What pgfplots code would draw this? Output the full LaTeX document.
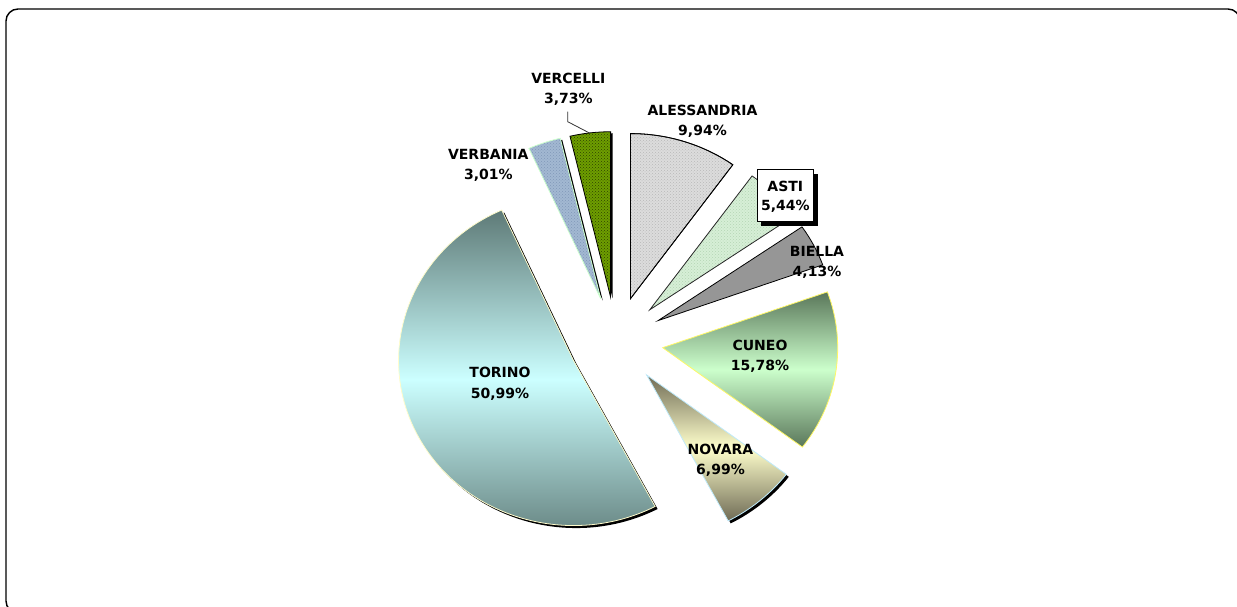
\documentclass[border=0pt]{standalone}
\usepackage{pgfplots}
\usepackage{pgfplotstable}
\pgfplotsset{compat=1.18}
\usetikzlibrary{patterns}
\usepackage{fontspec}
\setmainfont{DejaVu Sans}

\definecolor{torinoD}{HTML}{5E7A77}
\definecolor{torinoL}{HTML}{CCFFFF}
\definecolor{cuneoD}{HTML}{5A775A}
\definecolor{cuneoL}{HTML}{CCFFCC}
\definecolor{novaraD}{HTML}{6F6B55}
\definecolor{novaraL}{HTML}{FFFFCC}
\definecolor{alesF}{HTML}{DCDCDC}
\definecolor{alesP}{HTML}{B8B8B8}
\definecolor{astiF}{HTML}{D6EFD6}
\definecolor{astiP}{HTML}{B5D5B5}
\definecolor{biellaF}{HTML}{969696}
\definecolor{verbF}{HTML}{A2B8D2}
\definecolor{verbP}{HTML}{8098B8}
\definecolor{vercF}{HTML}{6E9E00}
\definecolor{vercP}{HTML}{2E4200}

\pgfplotstableread{
name value
ALESSANDRIA 9.94
ASTI 5.44
BIELLA 4.13
CUNEO 15.78
NOVARA 6.99
TORINO 50.99
VERBANIA 3.01
VERCELLI 3.73
}\piedata

% pie geometry (pixel units, y upwards)
\def\pcx{616}\def\pcy{266}\def\prx{175}\def\pry{165}\def\pex{0.27}

\newcommand\pieslice[2]{%
  \path[#2] (axis cs:\csname pieX#1\endcsname,\csname pieY#1\endcsname)
    -- ++(\csname pieS#1\endcsname:\prx pt and \pry pt)
    arc[start angle=\csname pieS#1\endcsname, end angle=\csname pieE#1\endcsname,
        x radius=\prx pt, y radius=\pry pt] -- cycle;}

\newcommand\plab[5]{%
  \node[lab] at (axis cs:#1,{607-#2-5.1}) {#4};
  \node[lab] at (axis cs:#1,{607-#3-5.1}) {#5};}

\tikzset{lab/.style={font=\fontsize{14}{17}\selectfont\bfseries, anchor=base, inner sep=0pt}}

\begin{document}
\begin{tikzpicture}
\def\cum{0}
\pgfplotsforeachungrouped \i in {0,...,7}{%
  \pgfplotstablegetelem{\i}{value}\of\piedata
  \pgfmathsetmacro\v{\pgfplotsretval}
  \pgfmathsetmacro\sA{90-3.6*\cum}
  \pgfmathsetmacro\eA{90-3.6*(\cum+\v)}
  \pgfmathsetmacro\mA{(\sA+\eA)/2}
  \pgfmathsetmacro\axx{\pcx+\pex*\prx*cos(\mA)}
  \pgfmathsetmacro\ayy{\pcy+\pex*\pry*sin(\mA)}
  \expandafter\xdef\csname pieS\i\endcsname{\sA}%
  \expandafter\xdef\csname pieE\i\endcsname{\eA}%
  \expandafter\xdef\csname pieX\i\endcsname{\axx}%
  \expandafter\xdef\csname pieY\i\endcsname{\ayy}%
  \pgfmathsetmacro\cum{\cum+\v}%
}
\begin{axis}[
  at={(0,0)}, anchor=south west,
  width=1237pt, height=607pt, scale only axis,
  xmin=0, xmax=1237, ymin=0, ymax=607,
  hide axis, clip=true]
% frame
\draw[line width=1.4pt, rounded corners=12pt] (axis cs:6,598) rectangle (axis cs:1240,-6);
% shadows
\pieslice{4}{fill=black, xshift=2.5pt, yshift=-2.5pt}
\pieslice{5}{fill=black, xshift=2.5pt, yshift=-2.5pt}
\pieslice{6}{fill=black, xshift=2pt, yshift=-1.5pt}
\pieslice{7}{fill=black, xshift=2pt, yshift=-1.5pt}
% slices
\pieslice{0}{fill=alesF, postaction={pattern=crosshatch dots, pattern color=alesP}, draw=black, line width=0.8pt}
\pieslice{0}{draw=black, line width=0.8pt}
\pieslice{1}{fill=astiF, postaction={pattern=crosshatch dots, pattern color=astiP}}
\pieslice{1}{draw=black!85, line width=0.8pt}
\pieslice{2}{fill=biellaF, draw=black, line width=0.8pt}
\pieslice{3}{top color=cuneoD, bottom color=cuneoD, middle color=cuneoL, draw=yellow!60, line width=0.8pt}
\pieslice{4}{top color=novaraD, bottom color=novaraD, middle color=novaraL, draw=cyan!25, line width=0.8pt}
\pieslice{5}{top color=torinoD, bottom color=torinoD, middle color=torinoL, draw=yellow!20, line width=0.8pt}
\pieslice{6}{fill=verbF, postaction={pattern=crosshatch dots, pattern color=verbP}}
\pieslice{6}{draw=green!20, line width=0.8pt}
\pieslice{7}{fill=vercF, postaction={pattern=crosshatch dots, pattern color=vercP}}
\pieslice{7}{draw=black, line width=0.8pt}
% Vercelli leader line
\draw[black!80, line width=0.8pt] (axis cs:567.7,{607-111.7}) -- (axis cs:567.7,{607-121.7}) -- (axis cs:590,{607-133.3});
% Asti label box
\fill[black] (axis cs:761.3,{607-174}) rectangle (axis cs:817.5,{607-225.7});
\draw[fill=white, line width=1pt] (axis cs:757.3,{607-170}) rectangle (axis cs:813.3,{607-221.7});
% labels
\plab{568.3}{78.8}{98.8}{VERCELLI}{3,73\%}
\plab{702.5}{110.2}{130.5}{ALESSANDRIA}{9,94\%}
\plab{785.3}{186.7}{205.8}{ASTI}{5,44\%}
\plab{817}{251.7}{271.7}{BIELLA}{4,13\%}
\plab{760}{345.7}{365.5}{CUNEO}{15,78\%}
\plab{720.5}{449}{469}{NOVARA}{6,99\%}
\plab{500}{372.7}{393.3}{TORINO}{50,99\%}
\plab{488.3}{154.3}{174.5}{VERBANIA}{3,01\%}
\end{axis}
\pgfresetboundingbox
\path[use as bounding box] (0,0) rectangle (1237pt,607pt);
\end{tikzpicture}
\end{document}
